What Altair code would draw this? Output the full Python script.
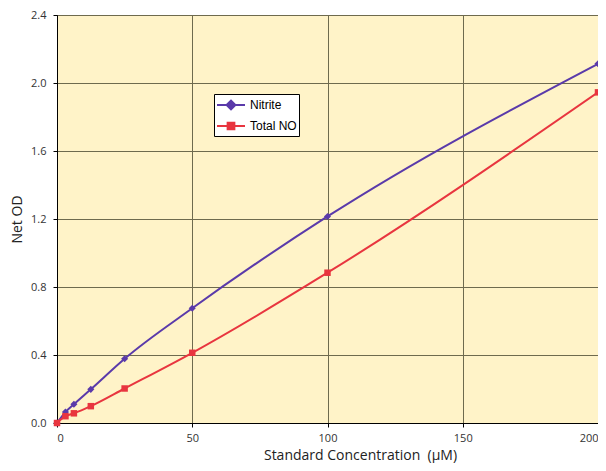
import altair as alt
import pandas as pd

conc = [0, 3.125, 6.25, 12.5, 25, 50, 100, 200]
nitrite = [0.0, 0.064, 0.11, 0.198, 0.378, 0.675, 1.215, 2.113]
total_no = [0.0, 0.04, 0.057, 0.099, 0.203, 0.413, 0.884, 1.945]
series = ["Nitrite", "Total NO"]
colors = ["#5a3aaa", "#e8353f"]

rows = []
for c, v in zip(conc, nitrite):
    rows.append({"conc": c, "od": v, "series": "Nitrite"})
for c, v in zip(conc, total_no):
    rows.append({"conc": c, "od": v, "series": "Total NO"})
df = pd.DataFrame(rows)

diamond_path = "M-1.75,0L1.75,0M-0.55,0L0,-0.55L0.55,0L0,0.55Z"
square_path = "M-1.75,0L1.75,0M-0.42,-0.42L0.42,-0.42L0.42,0.42L-0.42,0.42Z"

x = alt.X("conc:Q", scale=alt.Scale(domain=[0, 200], nice=False),
          axis=alt.Axis(values=[0, 50, 100, 150, 200],
                        title="Standard Concentration\u00a0\u00a0(µM)",
                        titlePadding=5, labelPadding=5, titleX=303, titleAlign="center"))
y = alt.Y("od:Q", scale=alt.Scale(domain=[0, 2.4], nice=False),
          axis=alt.Axis(values=[0, 0.4, 0.8, 1.2, 1.6, 2.0, 2.4], format=".1f", title="Net OD",
                        titlePadding=6, labelPadding=7))
cscale = alt.Scale(domain=series, range=colors)
col = alt.Color("series:N", scale=cscale, legend=None)

base = alt.Chart(df)
lines = base.mark_line(interpolate="monotone", strokeWidth=2).encode(x=x, y=y, color=col)
pts_n = base.transform_filter(alt.datum.series == "Nitrite").mark_point(
    filled=True, opacity=1, size=50, shape="diamond").encode(x=x, y=y, color=col)
pts_t = base.transform_filter(alt.datum.series == "Total NO").mark_point(
    filled=True, opacity=1, size=42, shape="square").encode(x=x, y=y, color=col)

leg = alt.Legend(title=None, orient="none", legendX=157, legendY=79,
                 fillColor="white", strokeColor="black", padding=2,
                 symbolSize=256, symbolStrokeWidth=2, symbolOpacity=1, rowPadding=3,
                 symbolOffset=6,
                 labelFont="Liberation Sans", labelFontSize=12, labelColor="black",
                 labelOffset=10)
legend_layer = base.mark_point(filled=True, opacity=0, size=1).encode(
    x=x, y=y,
    color=alt.Color("series:N", scale=cscale, legend=leg),
    stroke=alt.Stroke("series:N", scale=alt.Scale(domain=series, range=colors), legend=leg),
    shape=alt.Shape("series:N", scale=alt.Scale(domain=series, range=[diamond_path, square_path]), legend=leg),
)

chart = alt.layer(lines, pts_n, pts_t, legend_layer).resolve_legend(
    color="independent", stroke="independent", shape="independent"
).properties(
    width=541, height=408,
    autosize=alt.AutoSizeParams(type="none"),
    padding={"left": 49, "top": 7, "right": 0, "bottom": 40},
    background="white",
).configure_view(fill="#fff3c8", stroke="black", strokeWidth=1).configure_axis(
    gridColor="#6e6a4e", gridOpacity=1, gridWidth=1,
    domainColor="black", tickColor="black", tickSize=4,
    labelFont="Open Sans", labelFontSize=11, labelColor="#333333",
    titleFont="Open Sans", titleFontSize=14, titleFontWeight="normal", titleColor="#222222",
)

chart.save("out.html", embed_options={"renderer": "svg", "actions": False})
